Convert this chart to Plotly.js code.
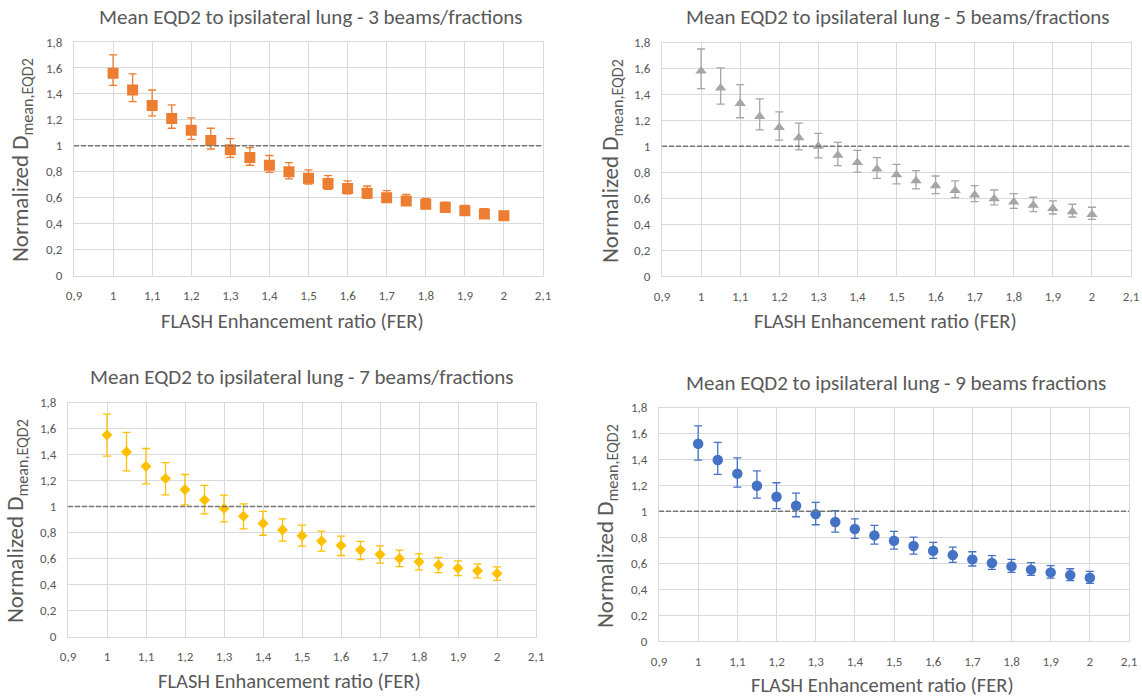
<!DOCTYPE html>
<html>
<head>
<meta charset="utf-8">
<script src="https://cdn.plot.ly/plotly-3.0.1.min.js"></script>
<style>
html,body{margin:0;padding:0;background:#ffffff;}
#chart{width:1142px;height:697px;}
</style>
</head>
<body>
<div id="chart"></div>
<script>
// ---- data ----
const fer = [1, 1.05, 1.1, 1.15, 1.2, 1.25, 1.3, 1.35, 1.4, 1.45, 1.5, 1.55, 1.6, 1.65, 1.7, 1.75, 1.8, 1.85, 1.9, 1.95, 2];

const panelTitles = [
  "Mean EQD2 to ipsilateral lung - 3 beams/fractions",
  "Mean EQD2 to ipsilateral lung - 5 beams/fractions",
  "Mean EQD2 to ipsilateral lung - 7 beams/fractions",
  "Mean EQD2 to ipsilateral lung - 9 beams fractions"
];
const xTitle = "FLASH Enhancement ratio (FER)";
const yTitle = "Normalized D<sub>mean,EQD2</sub>";
const referenceLevel = 1;

// 3 beams/fractions
const mean3  = [1.56, 1.43, 1.31, 1.21, 1.12, 1.04, 0.97, 0.91, 0.85, 0.80, 0.75, 0.71, 0.67, 0.635, 0.60, 0.575, 0.55, 0.525, 0.50, 0.475, 0.46];
const upper3 = [1.70, 1.555, 1.43, 1.315, 1.215, 1.135, 1.055, 0.985, 0.925, 0.87, 0.815, 0.77, 0.73, 0.69, 0.655, 0.625, 0.595, 0.565, 0.54, 0.515, 0.495];
const lower3 = [1.465, 1.34, 1.23, 1.135, 1.05, 0.975, 0.91, 0.85, 0.795, 0.745, 0.705, 0.665, 0.63, 0.595, 0.565, 0.54, 0.515, 0.495, 0.47, 0.45, 0.43];

// 5 beams/fractions
const mean5  = [1.58, 1.45, 1.33, 1.23, 1.145, 1.065, 1.00, 0.93, 0.875, 0.825, 0.78, 0.735, 0.695, 0.66, 0.625, 0.595, 0.57, 0.545, 0.52, 0.495, 0.475];
const upper5 = [1.75, 1.605, 1.475, 1.365, 1.265, 1.178, 1.10, 1.03, 0.968, 0.913, 0.861, 0.813, 0.771, 0.733, 0.697, 0.663, 0.635, 0.607, 0.579, 0.553, 0.53];
const lower5 = [1.445, 1.325, 1.22, 1.126, 1.047, 0.972, 0.91, 0.851, 0.80, 0.753, 0.71, 0.671, 0.635, 0.604, 0.573, 0.548, 0.522, 0.496, 0.478, 0.455, 0.437];

// 7 beams/fractions
const mean7  = [1.55, 1.42, 1.31, 1.215, 1.13, 1.05, 0.985, 0.925, 0.87, 0.82, 0.775, 0.735, 0.70, 0.665, 0.63, 0.60, 0.575, 0.55, 0.525, 0.505, 0.485];
const upper7 = [1.71, 1.57, 1.446, 1.338, 1.246, 1.162, 1.087, 1.02, 0.962, 0.905, 0.856, 0.81, 0.772, 0.731, 0.697, 0.664, 0.636, 0.608, 0.582, 0.559, 0.536];
const lower7 = [1.387, 1.274, 1.174, 1.09, 1.013, 0.944, 0.882, 0.828, 0.779, 0.733, 0.695, 0.656, 0.623, 0.592, 0.564, 0.538, 0.513, 0.492, 0.469, 0.451, 0.431];

// 9 beams fractions
const mean9  = [1.52, 1.395, 1.29, 1.197, 1.112, 1.043, 0.978, 0.917, 0.863, 0.814, 0.773, 0.732, 0.696, 0.662, 0.629, 0.601, 0.575, 0.55, 0.529, 0.508, 0.488];
const upper9 = [1.659, 1.531, 1.412, 1.312, 1.22, 1.14, 1.068, 1.004, 0.942, 0.891, 0.845, 0.801, 0.76, 0.724, 0.688, 0.658, 0.629, 0.604, 0.581, 0.557, 0.537];
const lower9 = [1.394, 1.284, 1.186, 1.102, 1.02, 0.958, 0.896, 0.84, 0.791, 0.747, 0.709, 0.67, 0.637, 0.606, 0.578, 0.552, 0.529, 0.506, 0.485, 0.465, 0.444];

// ---- styling / layout ----
const W = 1142, H = 697;
const FONT = "Carlito, Calibri, Lato, 'Noto Sans', sans-serif";
const TXT = "#595959";
const GRID = "#D9D9D9";

const panels = [
  {mean: mean3, up: upper3, lo: lower3, color: "#ED7D31", symbol: "square", size: 11,
   px: [74, 543], py: [42, 275.5], title: [311, 17], xt: [292, 321], yt: [22, 160]},
  {mean: mean5, up: upper5, lo: lower5, color: "#A5A5A5", symbol: "triangle-up", size: 10,
   px: [662, 1131], py: [42.5, 276], title: [898, 17], xt: [885, 321], yt: [612, 161]},
  {mean: mean7, up: upper7, lo: lower7, color: "#FFC000", symbol: "diamond", size: 8.5,
   px: [68, 536], py: [402.5, 636.5], title: [302, 377], xt: [289, 681], yt: [16, 521]},
  {mean: mean9, up: upper9, lo: lower9, color: "#4472C4", symbol: "circle", size: 10.5,
   px: [659, 1129], py: [407.5, 641], title: [896, 383], xt: [882, 685], yt: [606, 526]}
];

const fx = p => p / W;
const fy = p => 1 - p / H;

const traces = [];
const layout = {
  width: W, height: H,
  margin: {l: 0, r: 0, t: 0, b: 0, pad: 0},
  paper_bgcolor: "#ffffff",
  plot_bgcolor: "#ffffff",
  separators: ", ",
  showlegend: false,
  font: {family: FONT, color: TXT},
  annotations: [],
  shapes: []
};

panels.forEach((p, i) => {
  const n = i === 0 ? "" : String(i + 1);
  const xa = "x" + n, ya = "y" + n;
  traces.push({
    type: "scatter", mode: "markers",
    x: fer, y: p.mean,
    xaxis: xa, yaxis: ya,
    marker: {symbol: p.symbol, size: p.size, color: p.color, line: {width: 0}},
    error_y: {
      type: "data", symmetric: false,
      array: p.up.map((u, k) => u - p.mean[k]),
      arrayminus: p.lo.map((l, k) => p.mean[k] - l),
      color: p.color, thickness: 1.3, width: 4
    },
    hoverinfo: "x+y"
  });
  layout["xaxis" + n] = {
    domain: [fx(p.px[0]), fx(p.px[1])], anchor: ya,
    range: [0.9, 2.1], tick0: 0.9, dtick: 0.1,
    showgrid: true, gridcolor: GRID, gridwidth: 1,
    zeroline: false, showline: true, linecolor: GRID, linewidth: 1, mirror: true,
    ticks: "", ticklabelstandoff: 8,
    tickfont: {family: FONT, size: 13, color: TXT},
    fixedrange: true
  };
  layout["yaxis" + n] = {
    domain: [fy(p.py[1]), fy(p.py[0])], anchor: xa,
    range: [0, 1.8], tick0: 0, dtick: 0.2,
    showgrid: true, gridcolor: GRID, gridwidth: 1,
    zeroline: false, showline: true, linecolor: GRID, linewidth: 1, mirror: true,
    ticks: "", ticklabelstandoff: 8,
    tickfont: {family: FONT, size: 13, color: TXT},
    fixedrange: true
  };
  layout.shapes.push({
    type: "line", xref: xa, yref: ya,
    x0: 0.9, x1: 2.1, y0: referenceLevel, y1: referenceLevel,
    line: {color: "#767676", width: 1.6, dash: "5px,2px"},
    layer: "above"
  });
  layout.annotations.push({
    text: panelTitles[i], xref: "paper", yref: "paper",
    x: fx(p.title[0]), y: fy(p.title[1]), xanchor: "center", yanchor: "middle",
    showarrow: false, font: {family: FONT, size: 21, color: TXT}
  });
  layout.annotations.push({
    text: xTitle, xref: "paper", yref: "paper",
    x: fx(p.xt[0]), y: fy(p.xt[1]), xanchor: "center", yanchor: "middle",
    showarrow: false, font: {family: FONT, size: 20.5, color: TXT}
  });
  layout.annotations.push({
    text: yTitle, xref: "paper", yref: "paper", textangle: -90,
    x: fx(p.yt[0]), y: fy(p.yt[1]), xanchor: "center", yanchor: "middle",
    showarrow: false, font: {family: FONT, size: 23, color: TXT}
  });
});

Plotly.newPlot("chart", traces, layout, {displayModeBar: false, staticPlot: true});
</script>
</body>
</html>
